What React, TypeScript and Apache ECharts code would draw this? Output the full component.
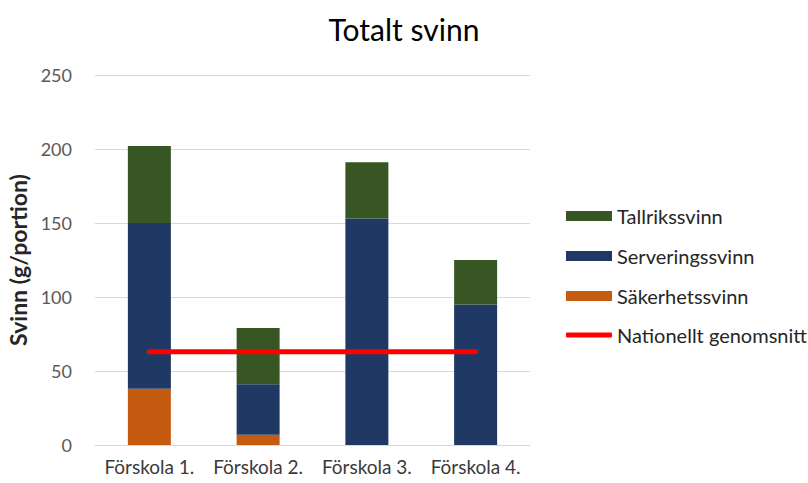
import React, { useEffect, useRef } from "react";
import * as echarts from "echarts";

const categories = ["Förskola 1.", "Förskola 2.", "Förskola 3.", "Förskola 4."];
const sakerhetssvinn = [38, 7, 0, 0];
const serveringssvinn = [112, 34, 153, 95];
const tallrikssvinn = [52, 38, 38, 30];
const nationelltGenomsnitt = [63, 63, 63, 63];
const yTicks = { min: 0, max: 250, interval: 50 };

const FONT = "Lato";

export default function App() {
  const ref = useRef<HTMLDivElement>(null);
  useEffect(() => {
    document.body.style.margin = "0";
    if (!ref.current) return;
    const chart = echarts.init(ref.current, undefined, { renderer: "svg" });
    chart.setOption({
      animation: false,
      backgroundColor: "#ffffff",
      textStyle: { fontFamily: FONT },
      title: {
        text: "Totalt svinn",
        left: "center",
        top: 9,
        textStyle: { fontFamily: FONT, fontSize: 30, fontWeight: "normal", color: "#000000" },
      },
      grid: { left: 95, right: 278, top: 75, bottom: 38, containLabel: false, outerBoundsMode: "none" },
      legend: [
        {
          orient: "vertical",
          left: 566,
          top: 204,
          padding: 0,
          itemWidth: 46,
          itemHeight: 10,
          itemGap: 16,
          icon: "rect",
          data: ["Tallrikssvinn", "Serveringssvinn", "Säkerhetssvinn"],
          textStyle: { fontFamily: FONT, fontSize: 20, color: "#262626", lineHeight: 24 },
        },
        {
          orient: "vertical",
          left: 566,
          top: 323,
          padding: 0,
          itemWidth: 46,
          itemHeight: 5,
          icon: "roundRect",
          data: ["Nationellt genomsnitt"],
          textStyle: { fontFamily: FONT, fontSize: 20, color: "#262626", lineHeight: 24 },
        },
      ],
      xAxis: {
        type: "category",
        data: categories,
        axisTick: { show: false },
        axisLine: { lineStyle: { color: "#D9D9D9", width: 1 } },
        axisLabel: { color: "#3a3a3a", fontSize: 19, fontFamily: FONT, margin: 12, interval: 0, hideOverlap: false },
      },
      yAxis: {
        type: "value",
        min: yTicks.min,
        max: yTicks.max,
        interval: yTicks.interval,
        name: "Svinn (g/portion)",
        nameLocation: "middle",
        nameRotate: 90,
        nameGap: 62,
        nameTextStyle: { fontFamily: FONT, fontSize: 23, fontWeight: "bold", color: "#262626" },
        axisLine: { show: false },
        axisTick: { show: false },
        splitLine: { lineStyle: { color: "#D9D9D9", width: 1 } },
        axisLabel: { color: "#595959", fontSize: 18, fontFamily: FONT, margin: 23 },
      },
      series: [
        {
          name: "Säkerhetssvinn",
          type: "bar",
          stack: "total",
          barWidth: 43,
          data: sakerhetssvinn,
          itemStyle: { color: "#C55A11" },
        },
        {
          name: "Serveringssvinn",
          type: "bar",
          stack: "total",
          barWidth: 43,
          data: serveringssvinn,
          itemStyle: { color: "#203864" },
        },
        {
          name: "Tallrikssvinn",
          type: "bar",
          stack: "total",
          barWidth: 43,
          data: tallrikssvinn,
          itemStyle: { color: "#375623" },
        },
        {
          name: "Nationellt genomsnitt",
          type: "line",
          data: nationelltGenomsnitt,
          symbol: "none",
          z: 10,
          itemStyle: { color: "#FF0000" },
          lineStyle: { color: "#FF0000", width: 5, cap: "round" },
        },
      ],
    });
    return () => chart.dispose();
  }, []);
  return <div ref={ref} style={{ width: 808, height: 483 }} />;
}
